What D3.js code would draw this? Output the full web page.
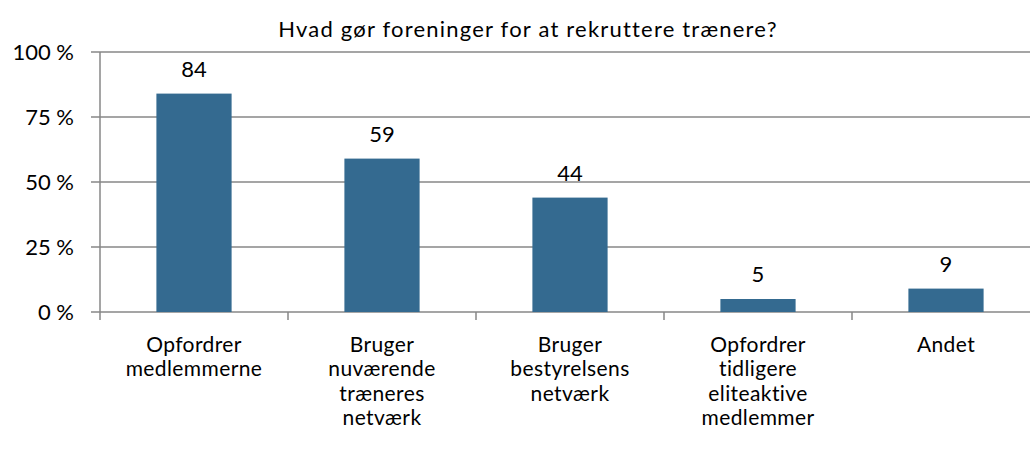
<!DOCTYPE html>
<meta charset="utf-8">
<style>
  body { margin: 0; background: #fff; }
  svg { display: block; font-family: Lato, "Open Sans", sans-serif; }
</style>
<div id="chart"></div>
<script src="https://d3js.org/d3.v7.min.js"></script>
<script>

var categories = [
  ["Opfordrer", "medlemmerne"],
  ["Bruger", "nuværende", "træneres", "netværk"],
  ["Bruger", "bestyrelsens", "netværk"],
  ["Opfordrer", "tidligere", "eliteaktive", "medlemmer"],
  ["Andet"]
];
var values = [84, 59, 44, 5, 9];
var yTicks = [0, 25, 50, 75, 100];
var title = "Hvad gør foreninger for at rekruttere trænere?";

var width = 1030, height = 455;
var plotLeft = 100, plotTop = 52, plotBottom = 312, plotRight = 1040;
var fontSize = 22;

var svg = d3.select("#chart")
  .append("svg")
  .attr("width", width)
  .attr("height", height);

var x = d3.scaleBand()
  .domain(d3.range(values.length))
  .range([plotLeft, plotRight])
  .paddingInner(0.6)
  .paddingOuter(0.3);

var y = d3.scaleLinear()
  .domain([0, 100])
  .range([plotBottom, plotTop]);

// gridlines
svg.append("g")
  .selectAll("line")
  .data(yTicks)
  .enter().append("line")
    .attr("x1", plotLeft - 9)
    .attr("x2", plotRight)
    .attr("y1", function(d) { return y(d); })
    .attr("y2", function(d) { return y(d); })
    .attr("stroke", "#878787")
    .attr("stroke-width", 1.5);

// y axis line
svg.append("line")
  .attr("x1", plotLeft).attr("x2", plotLeft)
  .attr("y1", plotTop).attr("y2", plotBottom + 8)
  .attr("stroke", "#878787")
  .attr("stroke-width", 1.5);

// category boundary ticks
svg.append("g")
  .selectAll("line")
  .data(d3.range(1, values.length))
  .enter().append("line")
    .attr("x1", function(d) { return plotLeft + d * x.step(); })
    .attr("x2", function(d) { return plotLeft + d * x.step(); })
    .attr("y1", plotBottom)
    .attr("y2", plotBottom + 8)
    .attr("stroke", "#878787")
    .attr("stroke-width", 1.5);

svg.append("g")
  .selectAll("text")
  .data(yTicks)
  .enter().append("text")
    .attr("x", 74)
    .attr("y", function(d) { return y(d); })
    .attr("dy", "0.36em")
    .attr("text-anchor", "end")
    .attr("font-size", fontSize)
    .text(function(d) { return d + " %"; });

// bars
svg.append("g")
  .selectAll("rect")
  .data(values)
  .enter().append("rect")
    .attr("x", function(d, i) { return x(i); })
    .attr("y", function(d) { return y(d); })
    .attr("width", x.bandwidth())
    .attr("height", function(d) { return plotBottom - y(d); })
    .attr("fill", "#346a90");

// value labels
svg.append("g")
  .selectAll("text")
  .data(values)
  .enter().append("text")
    .attr("x", function(d, i) { return x(i) + x.bandwidth() / 2; })
    .attr("y", function(d) { return y(d) - 17; })
    .attr("text-anchor", "middle")
    .attr("font-size", fontSize)
    .text(function(d) { return d; });

// category labels (one line each, stacked)
var cat = svg.append("g")
  .selectAll("g")
  .data(categories)
  .enter().append("g")
    .attr("transform", function(d, i) { return "translate(" + (x(i) + x.bandwidth() / 2) + ",352)"; });

cat.selectAll("text")
  .data(function(d) { return d; })
  .enter().append("text")
    .attr("text-anchor", "middle")
    .attr("font-size", 21)
    .attr("letter-spacing", 0.4)
    .attr("y", function(d, i) { return i * 24.3; })
    .text(function(d) { return d; });

svg.append("text")
  .attr("x", 528)
  .attr("y", 37)
  .attr("text-anchor", "middle")
  .attr("font-size", 22)
  .attr("letter-spacing", 1.2)
  .text(title);

</script>
